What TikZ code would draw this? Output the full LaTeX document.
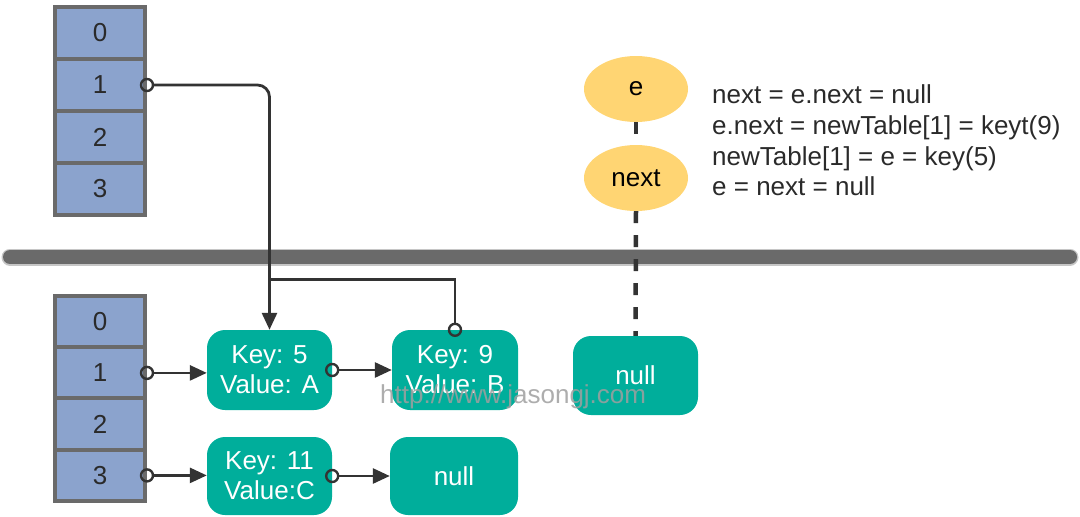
\documentclass[tikz,border=0pt]{standalone}
\usepackage{fontspec}
\setmainfont{Liberation Sans}
\usetikzlibrary{arrows.meta,shapes.geometric,calc}
\definecolor{cellblue}{HTML}{8BA3CD}
\definecolor{framegray}{HTML}{6A6A6A}
\definecolor{teal}{HTML}{00AE9B}
\definecolor{yel}{HTML}{FFD573}
\definecolor{wirec}{HTML}{333333}
\definecolor{txt}{HTML}{2A2A2A}
\begin{document}
\begin{tikzpicture}[x=1pt,y=-1pt,
  bigfont/.style={font=\fontsize{26}{30}\selectfont},
  cell/.style={draw=framegray,line width=4pt,fill=cellblue,minimum width=90pt,inner sep=0pt,text=txt,bigfont},
  tcell/.style={cell,minimum height=52pt},
  bcell/.style={cell,minimum height=51.25pt},
  entry/.style={fill=teal,rounded corners=18pt,text=white,align=center,inner sep=0pt,bigfont},
  var/.style={ellipse,fill=yel,minimum width=104pt,minimum height=66pt,inner sep=0pt,text=black,bigfont},
  wire/.style={draw=wirec,line width=2.8pt},
  tip/.style={-{Triangle[length=17pt,width=15pt]}},
  fromring/.style={shorten <=6pt},
  ring/.style={draw=wirec,line width=2.4pt},
  dashline/.style={draw=wirec,line width=4.5pt,dash pattern=on 12pt off 12pt},
  codeline/.style={anchor=base west,text=txt,inner sep=0pt,bigfont}
]
\useasboundingbox (0,0) rectangle (1080,517);

% separator bar
\draw[line width=17pt,line cap=round,color=gray!45] (10,257) -- (1070,257);
\draw[line width=14pt,line cap=round,color=framegray] (10,257) -- (1070,257);

% top table
\node[tcell] (t0) at (100,33) {0};
\node[tcell] (t1) at (100,85) {1};
\node[tcell] (t2) at (100,137) {2};
\node[tcell] (t3) at (100,189) {3};

% bottom table
\node[bcell] (b0) at (100,321.6) {0};
\node[bcell] (b1) at (100,372.9) {1};
\node[bcell] (b2) at (100,424.1) {2};
\node[bcell] (b3) at (100,475.4) {3};

% entries
\node[entry,minimum width=125pt,minimum height=80pt] (k5) at (269.5,370) {Key: 5\\Value: A};
\node[entry,minimum width=126pt,minimum height=80pt] (k9) at (455,370) {Key: 9\\Value: B};
\node[entry,minimum width=125pt,minimum height=78pt] (k11) at (269.5,476) {Key: 11\\Value:C};
\node[entry,minimum width=128pt,minimum height=78pt] (na) at (454,476) {null};
\node[entry,minimum width=125pt,minimum height=79pt] (nb) at (635.5,375.5) {null};

% variables
\node[var] (e) at (636,89) {e};
\node[var] (nx) at (636,178) {next};

% code lines
\node[codeline] (l1) at (712,103) {next = e.next = null};
\node[codeline] (l2) at (712,134) {e.next = newTable[1] = keyt(9)};
\node[codeline] (l3) at (712,165) {newTable[1] = e = key(5)};
\node[codeline] (l4) at (712,195) {e = next = null};

% dashed links
\draw[dashline] (e.south) -- (nx.north);
\draw[dashline] (nx.south) -- (nb.north);

% connectors
\coordinate (j) at ($(k5.north)+(0,-50)$);
\draw[wire,tip,fromring,rounded corners=12pt] (t1.east) -| (k5.north);
\draw[wire,fromring] (k9.north) |- (j);
\draw[wire,tip,fromring] (b1.east) -- (b1.east -| k5.west);
\draw[wire,tip,fromring] (k5.east) -- (k5.east -| k9.west);
\draw[wire,tip,fromring] (b3.east) -- (b3.east -| k11.west);
\draw[wire,tip,fromring] (k11.east) -- (k11.east -| na.west);

% open rings at connector origins
\draw[ring] (t1.east) circle[radius=6pt];
\draw[ring] (b1.east) circle[radius=6pt];
\draw[ring] (b3.east) circle[radius=6pt];
\draw[ring] (k5.east) circle[radius=6pt];
\draw[ring] (k11.east) circle[radius=6pt];
\draw[ring] (k9.north) circle[radius=6pt];

% watermark
\node[anchor=base west,inner sep=0pt,text=gray!75,opacity=0.85,bigfont] (wm) at (380,403) {http://www.jasongj.com};
\end{tikzpicture}
\end{document}
